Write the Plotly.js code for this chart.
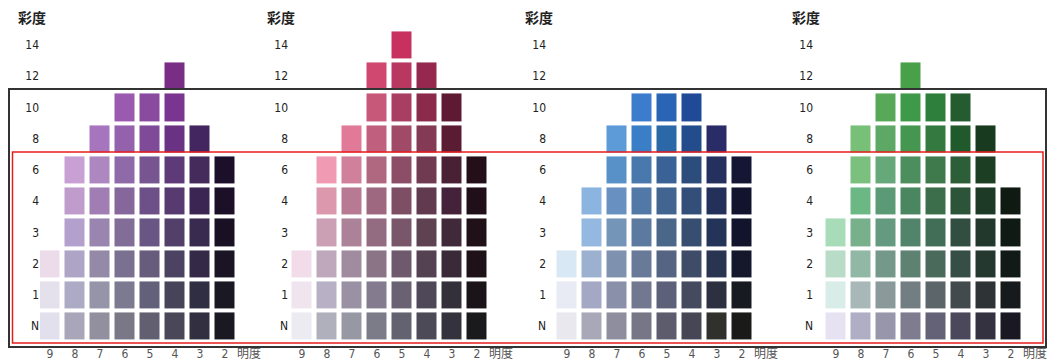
<!DOCTYPE html>
<html>
<head>
<meta charset="utf-8">
<script src="https://cdn.plot.ly/plotly-3.0.1.min.js"></script>
<style>html,body{margin:0;padding:0;background:#fff;}#chart{width:1049px;height:363px;}</style>
</head>
<body>
<div id="chart"></div>
<script>
// ---- data ----
const chromaLabels = ['N', '1', '2', '3', '4', '6', '8', '10', '12', '14'];   // bottom -> top
const valueLabels = [9, 8, 7, 6, 5, 4, 3, 2];
const valueAxisLabel = '明度';
const chromaAxisLabel = '彩度';

// rows follow chromaLabels (N ... 14); columns follow valueLabels (9 ... 2)
const purpleCells = [
  ['#e2e0ec', '#a8a6b8', '#92909e', '#7a7886', '#626070', '#4a4858', '#323040', '#1a1820'],
  ['#e4e0ec', '#acaac4', '#9694a8', '#7c7a90', '#63607a', '#47445a', '#302e42', '#1a1822'],
  ['#ecdcea', '#aea4c6', '#948aa8', '#7a7090', '#675c7c', '#4c4262', '#342a48', '#1a1424'],
  [null, '#b4a0cc', '#9a84b0', '#826c98', '#6a5684', '#52406a', '#392a50', '#1a1024'],
  [null, '#c09ccc', '#a07eb4', '#86679c', '#6e5088', '#563a70', '#3b2552', '#1c1028'],
  [null, '#c8a0d4', '#ad87c0', '#8f6aa8', '#775590', '#5e3a78', '#452a5c', '#1c0f2a'],
  [null, null, '#a775bd', '#9461ad', '#7f4a98', '#6a3282', '#432560', null],
  [null, null, null, '#9a5ab0', '#8a4aa0', '#7a3590', null, null],
  [null, null, null, null, null, '#7a2d85', null, null],
  [null, null, null, null, null, null, null, null]
];
const redPurpleCells = [
  ['#ecebf2', '#b0b0bc', '#9898a4', '#7c7c88', '#626270', '#4c4a56', '#34323c', '#1a1a1c'],
  ['#f0e4ee', '#b8b0c4', '#9a92a4', '#847c8e', '#6a6272', '#4e4858', '#34303a', '#1a1418'],
  ['#f2dcea', '#c0a8bc', '#a08c9e', '#8a7486', '#6e5a6c', '#544252', '#3a2a38', '#1e1218'],
  [null, '#cca0b4', '#ac8298', '#946c82', '#7a566a', '#5e4252', '#402a3a', '#201018'],
  [null, '#dc98ac', '#b87a92', '#9e6880', '#7e4e64', '#623a50', '#44223a', '#200e18'],
  [null, '#f09ab4', '#d0809a', '#b06880', '#8c4e66', '#703a50', '#4a2034', '#240e18'],
  [null, null, '#e07a98', '#c0607e', '#a04a68', '#843a54', '#5a1c32', null],
  [null, null, null, '#c8587a', '#a83e62', '#8c2a4c', '#5e1a32', null],
  [null, null, null, '#d04870', '#b83862', '#962850', null, null],
  [null, null, null, null, '#c83060', null, null, null]
];
const blueCells = [
  ['#e8e8ee', '#a8a8b8', '#8e8e9e', '#767686', '#5c5c6c', '#464654', '#30302c', '#1a1a18'],
  ['#e8eaf4', '#a4a8c4', '#8a90aa', '#727890', '#5c6078', '#454a5e', '#2c3040', '#181a22'],
  ['#d8e8f4', '#9cb0d0', '#7e92b0', '#687a98', '#546482', '#3e4c68', '#283450', '#14182a'],
  [null, '#94b8e0', '#7494b8', '#5c7aa0', '#4a6688', '#384e70', '#243458', '#12142c'],
  [null, '#8cb4e0', '#6890c0', '#5278a8', '#426490', '#344e7a', '#22305a', '#12142e'],
  [null, null, '#5890c8', '#4878ac', '#3a6296', '#2c4c7c', '#24305e', '#141634'],
  [null, null, '#5c9ad8', '#3a7ec8', '#2a68a8', '#224c8c', '#2a2c68', null],
  [null, null, null, '#3c7ccc', '#2a64b4', '#204a98', null, null],
  [null, null, null, null, null, null, null, null],
  [null, null, null, null, null, null, null, null]
];
const greenCells = [
  ['#e6e2f2', '#b0aec4', '#9896aa', '#7e7c8e', '#646276', '#4a485a', '#343240', '#1a1822'],
  ['#d8ece8', '#a8b8b8', '#8a9a9a', '#727e82', '#5c666a', '#424a4e', '#2e3436', '#161a1c'],
  ['#b8dcc8', '#90b8a4', '#74988a', '#5e8272', '#4a6a5c', '#364e46', '#243830', '#121a18'],
  ['#a8dcb8', '#78b08c', '#649a80', '#52846c', '#426e58', '#324e40', '#22382c', '#101a14'],
  [null, '#6cb884', '#5a9a74', '#4a8660', '#3c6e4c', '#2c5438', '#1c3a26', '#0e1a12'],
  [null, '#7cc080', '#66a87a', '#4c8e5e', '#3e7a4c', '#2c5e38', '#1c3e22', null],
  [null, '#78c078', '#5ca864', '#449650', '#347a40', '#205a2c', '#183a1e', null],
  [null, null, '#58a85a', '#3e9a48', '#2e7e3c', '#245c30', null, null],
  [null, null, null, '#48a048', null, null, null, null],
  [null, null, null, null, null, null, null, null]
];
const panelCells = [purpleCells, redPurpleCells, blueCells, greenCells];

// ---- layout geometry (pixels) ----
const W = 1049, H = 363;
const pitch = 25;
const panels = [
  {left: 40,  c9: 50},
  {left: 289, c9: 302},
  {left: 547, c9: 567},
  {left: 814, c9: 836}
];
const rightVal = 0.7;
const plotTop = 29.4, plotBottom = 341.6;
const numFont = 'Liberation Sans Narrow, DejaVu Sans Condensed, Noto Sans CJK JP, sans-serif';

const traces = [];
const layout = {
  width: W, height: H,
  margin: {l: 0, r: 0, t: 0, b: 0},
  paper_bgcolor: '#ffffff', plot_bgcolor: 'rgba(0,0,0,0)',
  showlegend: false,
  annotations: [],
  shapes: []
};

panelCells.forEach((cells, i) => {
  const g = panels[i];
  const uniq = [];
  const z = cells.map(row => row.map(c => {
    if (c === null) return null;
    let k = uniq.indexOf(c);
    if (k < 0) { uniq.push(c); k = uniq.length - 1; }
    return k;
  }));
  const n = uniq.length;
  const colorscale = uniq.map((c, k) => [k / (n - 1), c]);
  const xa = i === 0 ? 'x' : 'x' + (i + 1);
  const ya = i === 0 ? 'y' : 'y' + (i + 1);
  traces.push({
    type: 'heatmap',
    x: valueLabels,
    y: chromaLabels,
    z: z,
    zmin: 0, zmax: n - 1,
    colorscale: colorscale,
    showscale: false,
    xgap: 5, ygap: 4,
    hoverinfo: 'skip',
    xaxis: xa, yaxis: ya
  });
  const xLeftVal = 9 + (g.c9 - g.left) / pitch;
  const rightPx = g.c9 + (9 - rightVal) * pitch;
  const xk = i === 0 ? 'xaxis' : 'xaxis' + (i + 1);
  const yk = i === 0 ? 'yaxis' : 'yaxis' + (i + 1);
  layout[xk] = {
    domain: [g.left / W, rightPx / W],
    range: [xLeftVal, rightVal],
    anchor: ya,
    showgrid: false, zeroline: false, showline: false, ticks: '',
    tickvals: valueLabels.concat([1.04]),
    ticktext: valueLabels.map(String).concat([valueAxisLabel]),
    tickfont: {family: numFont, size: 12, color: '#555555'},
    ticklabelstandoff: 3,
    fixedrange: true
  };
  layout[yk] = {
    domain: [1 - plotBottom / H, 1 - plotTop / H],
    type: 'category',
    categoryorder: 'array',
    categoryarray: chromaLabels,
    range: [-0.5, chromaLabels.length - 0.5],
    anchor: xa,
    showgrid: false, zeroline: false, showline: false, ticks: '',
    tickfont: {family: numFont, size: 12, color: '#222222'},
    fixedrange: true
  };
  layout.annotations.push({
    xref: 'paper', yref: 'paper',
    x: (g.left - 8) / W, y: 1 - 17 / H,
    xanchor: 'center', yanchor: 'middle',
    text: chromaAxisLabel, showarrow: false,
    font: {family: 'Noto Sans CJK JP, sans-serif', size: 14, color: '#222222', weight: 700}
  });
});

layout.shapes.push({
  type: 'rect', xref: 'paper', yref: 'paper',
  x0: 9 / W, x1: 1046 / W, y0: 1 - 347 / H, y1: 1 - 89 / H,
  line: {color: '#333333', width: 2}, fillcolor: 'rgba(0,0,0,0)', layer: 'above'
});
layout.shapes.push({
  type: 'rect', xref: 'paper', yref: 'paper',
  x0: 12.5 / W, x1: 1043 / W, y0: 1 - 343 / H, y1: 1 - 152 / H,
  line: {color: '#e81c1c', width: 1.5}, fillcolor: 'rgba(0,0,0,0)', layer: 'above'
});

Plotly.newPlot('chart', traces, layout, {staticPlot: true, displayModeBar: false});
</script>
</body>
</html>
